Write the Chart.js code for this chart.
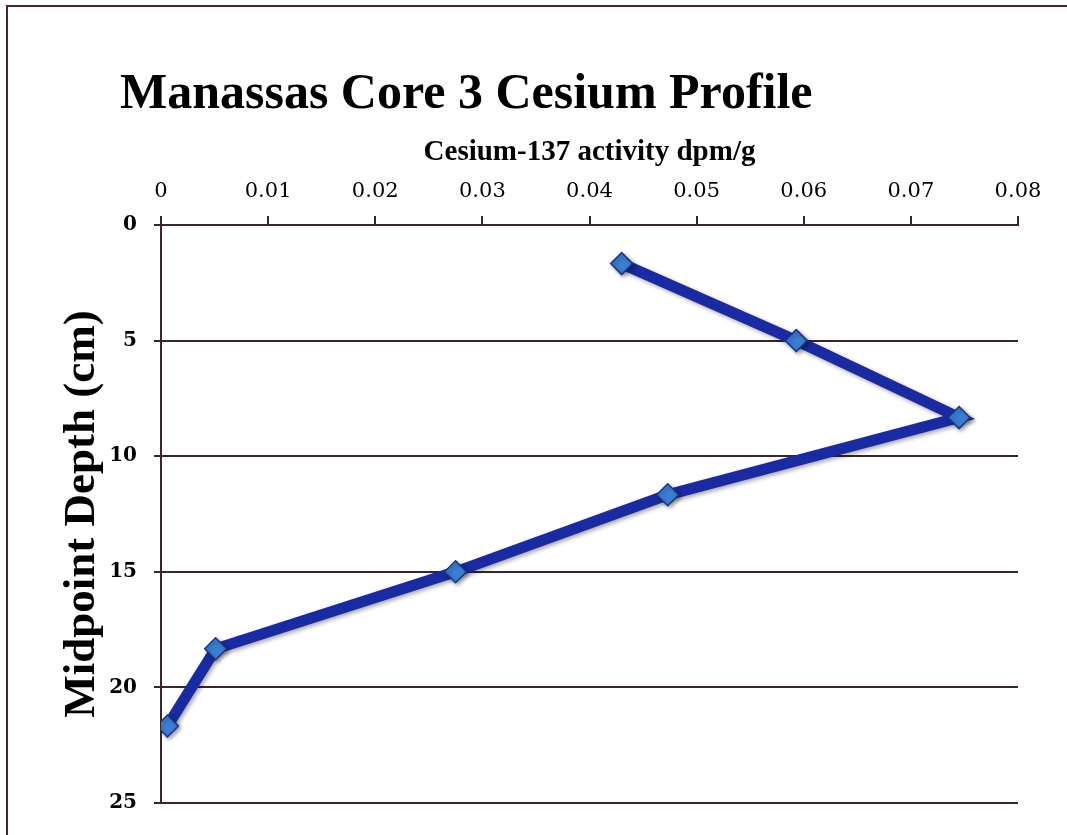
<!DOCTYPE html>
<html>
<head>
<meta charset="utf-8">
<title>Manassas Core 3 Cesium Profile</title>
<script src="https://cdn.jsdelivr.net/npm/chart.js@4.4.0/dist/chart.umd.min.js"></script>
<style>
  html, body { margin: 0; padding: 0; background: #ffffff; }
  #wrap { position: relative; width: 1067px; height: 835px; }
  #frame { position: absolute; left: 6px; top: 5px; right: 0; bottom: 0;
           border-left: 2px solid #4a2228; border-top: 2px solid #4a2228; pointer-events: none; }
  canvas { position: absolute; left: 0; top: 0; }
</style>
</head>
<body>
<div id="wrap">
  <canvas id="cesiumChart" width="1067" height="835"></canvas>
  <div id="frame"></div>
</div>
<script>
// Core 3 samples: midpoint depth (cm) and Cs-137 activity (dpm/g)
const depthCm = [1.67, 5, 8.33, 11.67, 15, 18.33, 21.67];
const cesiumActivity = [0.043, 0.0593, 0.0745, 0.0473, 0.0275, 0.0051, 0.0006];

const chartTitle = 'Manassas Core 3 Cesium Profile';
const xAxisTitle = 'Cesium-137 activity dpm/g';
const yAxisTitle = 'Midpoint Depth (cm)';
const xTickLabels = ['0', '0.01', '0.02', '0.03', '0.04', '0.05', '0.06', '0.07', '0.08'];
const yTickLabels = ['0', '5', '10', '15', '20', '25'];

const gridColor = '#3b2528';

// big title sits left of the plot, drawn by hand
const titlePlugin = {
  id: 'sheetTitle',
  afterDraw(chart) {
    const ctx = chart.ctx;
    ctx.save();
    ctx.font = 'bold 50px "Liberation Serif"';
    ctx.fillStyle = '#000000';
    ctx.textBaseline = 'alphabetic';
    ctx.textAlign = 'left';
    ctx.fillText(chartTitle, 120, 108);
    ctx.restore();
  }
};

// soft drop shadow under the line and markers
const shadowPlugin = {
  id: 'markerShadow',
  beforeDatasetDraw(chart) {
    const ctx = chart.ctx;
    ctx.save();
    ctx.shadowColor = 'rgba(0, 0, 0, 0.35)';
    ctx.shadowBlur = 4;
    ctx.shadowOffsetX = 2;
    ctx.shadowOffsetY = 2;
  },
  afterDatasetDraw(chart) {
    chart.ctx.restore();
  }
};

const points = depthCm.map((d, i) => ({ x: cesiumActivity[i], y: d }));

const ctx = document.getElementById('cesiumChart').getContext('2d');
new Chart(ctx, {
  type: 'scatter',
  data: {
    datasets: [{
      label: 'Core 3',
      data: points,
      showLine: true,
      borderColor: '#1a2aa3',
      borderWidth: 11,
      pointStyle: 'rectRot',
      pointRadius: 11,
      pointBackgroundColor: '#3b7fd4',
      pointBorderColor: '#1a3585',
      pointBorderWidth: 1.5,
      tension: 0
    }]
  },
  options: {
    responsive: false,
    animation: false,
    layout: {
      padding: { left: 10, right: 49, top: 125, bottom: 32 }
    },
    plugins: {
      legend: { display: false },
      title: { display: false },
      tooltip: { enabled: false }
    },
    scales: {
      x: {
        type: 'linear',
        position: 'top',
        min: 0,
        max: 0.08,
        afterFit: scale => { scale.height = 100; },
        afterBuildTicks: scale => {
          scale.ticks = xTickLabels.map(t => ({ value: Number(t) }));
        },
        border: { display: true, color: gridColor, width: 2 },
        grid: {
          drawOnChartArea: false,
          drawTicks: true,
          tickLength: 9,
          color: gridColor,
          lineWidth: 2
        },
        ticks: {
          padding: 12,
          color: '#000000',
          font: { family: '"DejaVu Serif"', size: 21 },
          callback: (v, i) => xTickLabels[i]
        },
        title: {
          display: true,
          text: xAxisTitle,
          color: '#000000',
          font: { family: '"Liberation Serif"', size: 29, weight: 'bold' },
          padding: { top: 10, bottom: 0 }
        }
      },
      y: {
        type: 'linear',
        reverse: true,
        min: 0,
        max: 25,
        afterFit: scale => { scale.width = 151; },
        afterBuildTicks: scale => {
          scale.ticks = yTickLabels.map(t => ({ value: Number(t) }));
        },
        border: { display: true, color: gridColor, width: 2 },
        grid: {
          drawTicks: true,
          tickLength: 7,
          color: gridColor,
          lineWidth: 2
        },
        ticks: {
          padding: 17,
          color: '#000000',
          font: { family: '"DejaVu Serif"', size: 20, weight: 'bold' },
          callback: (v, i) => yTickLabels[i]
        },
        title: {
          display: true,
          text: yAxisTitle,
          color: '#000000',
          font: { family: '"Liberation Serif"', size: 45, weight: 'bold' },
          padding: { top: 45, bottom: 0 }
        }
      }
    }
  },
  plugins: [titlePlugin, shadowPlugin]
});
</script>
</body>
</html>
